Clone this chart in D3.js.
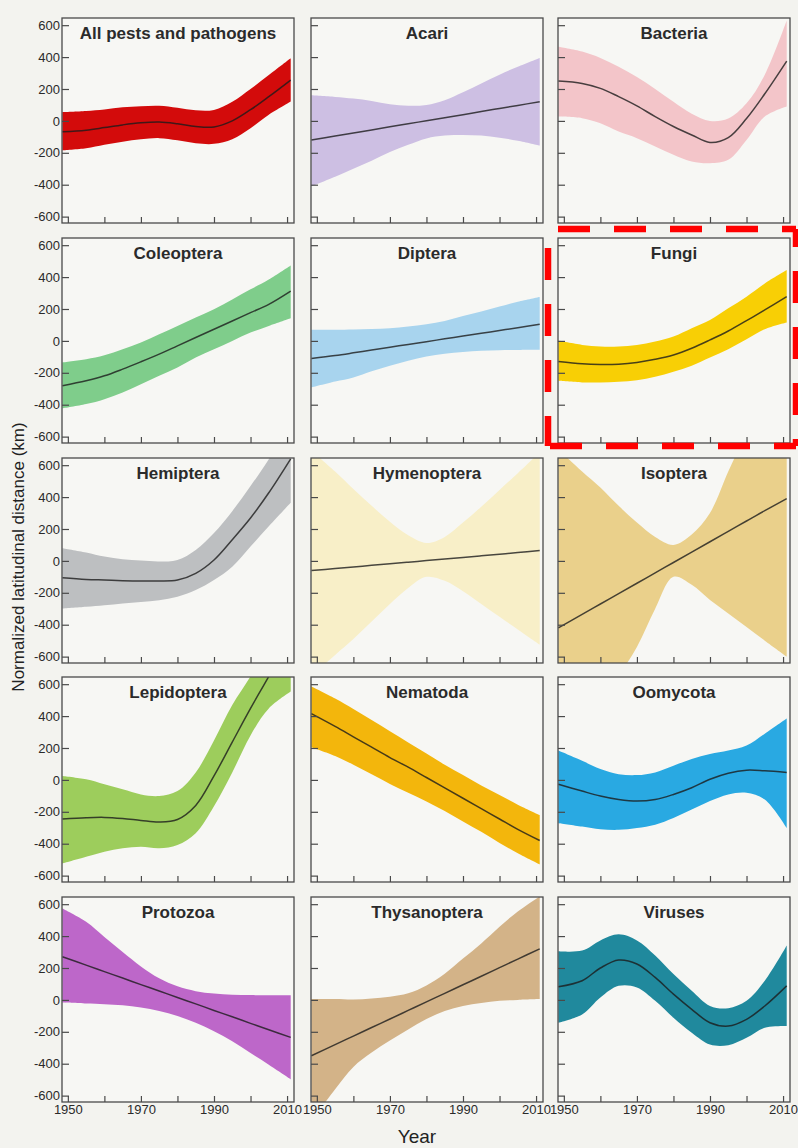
<!DOCTYPE html>
<html>
<head>
<meta charset="utf-8">
<script src="https://cdn.jsdelivr.net/npm/d3@7"></script>
<style>
  body { margin: 0; background: #f3f3ef; }
  text { font-family: "Liberation Sans", Arial, sans-serif; }
</style>
</head>
<body>
<svg></svg>
<script>
var years = [1948.5, 1955, 1960, 1965, 1970, 1975, 1980, 1985, 1990, 1995, 2000, 2005, 2011];

var panelNames = ["All pests and pathogens", "Acari", "Bacteria",
                  "Coleoptera", "Diptera", "Fungi",
                  "Hemiptera", "Hymenoptera", "Isoptera",
                  "Lepidoptera", "Nematoda", "Oomycota",
                  "Protozoa", "Thysanoptera", "Viruses"];

var panelColors = ["#d30b0b", "#cdbfe3", "#f3c5c9",
                   "#7fcd8b", "#a8d4ee", "#f8cf05",
                   "#bdbfc1", "#f8efc8", "#ead08b",
                   "#9dcd5c", "#f3b60c", "#29a9e2",
                   "#bd67c9", "#d3b388", "#20899d"];

var yTicks = [600, 400, 200, 0, -200, -400, -600];
var yTickLabels = ["600", "400", "200", "0", "-200", "-400", "-600"];
var xTicks = [1950, 1960, 1970, 1980, 1990, 2000, 2010];
var xTickLabels = ["1950", "", "1970", "", "1990", "", "2010"];

// fitted line, upper and lower band, km, one value per entry of years
var fitAll = [-68, -58, -42, -25, -12, -7, -18, -35, -38, 0, 70, 152, 256];
var hiAll  = [55, 62, 72, 85, 92, 95, 82, 66, 69, 120, 200, 287, 392];
var loAll  = [-185, -172, -150, -130, -115, -108, -122, -140, -144, -115, -46, 38, 121];

var fitAcari = [-120, -95, -76, -57, -37, -18, 1, 20, 39, 59, 78, 97, 120];
var hiAcari  = [160, 150, 140, 125, 105, 95, 100, 130, 180, 235, 290, 340, 395];
var loAcari  = [-410, -350, -300, -250, -195, -150, -110, -92, -88, -92, -105, -125, -155];

var fitBact = [250, 235, 204, 152, 94, 27, -35, -88, -135, -105, 15, 170, 375];
var hiBact  = [465, 435, 395, 340, 275, 200, 120, 45, 0, 15, 110, 290, 630];
var loBact  = [27, 17, -15, -67, -108, -160, -212, -254, -265, -244, -119, 27, 90];

var fitCole = [-281, -250, -219, -177, -131, -83, -31, 21, 73, 125, 177, 229, 312];
var hiCole  = [-135, -115, -90, -52, -10, 42, 94, 146, 198, 260, 323, 385, 473];
var loCole  = [-423, -396, -365, -323, -271, -219, -167, -104, -52, 0, 52, 94, 142];

var fitDipt = [-110, -92, -75, -57, -40, -22, -5, 13, 30, 48, 65, 83, 105];
var hiDipt  = [70, 70, 72, 75, 80, 90, 104, 125, 156, 185, 215, 245, 275];
var loDipt  = [-292, -255, -229, -190, -156, -125, -98, -80, -69, -62, -58, -57, -56];

var fitFungi = [-129, -144, -148, -146, -135, -115, -88, -46, 6, 62, 127, 194, 277];
var hiFungi  = [2, -25, -35, -35, -25, -4, 27, 79, 131, 204, 277, 360, 444];
var loFungi  = [-250, -260, -260, -256, -246, -225, -194, -156, -104, -52, 10, 73, 115];

var fitHemi = [-105, -116, -120, -124, -126, -126, -120, -78, 6, 133, 269, 427, 640];
var hiHemi  = [80, 53, 27, 10, 2, -4, 6, 69, 175, 312, 469, 637, 880];
var loHemi  = [-299, -288, -278, -267, -257, -246, -225, -183, -120, -36, 90, 217, 364];

var fitHyme = [-60, -48, -38, -28, -18, -8, 2, 12, 22, 32, 42, 52, 65];
var hiHyme  = [690, 560, 450, 345, 245, 160, 112, 150, 240, 340, 445, 550, 680];
var loHyme  = [-720, -590, -490, -380, -270, -170, -100, -125, -190, -270, -350, -430, -525];

var fitIsop = [-420, -335, -270, -205, -140, -75, -10, 55, 120, 185, 250, 315, 390];
var hiIsop  = [700, 560, 460, 345, 240, 150, 100, 165, 300, 560, 800, 1000, 1200];
var loIsop  = [-1200, -1050, -880, -720, -540, -300, -100, -150, -245, -330, -415, -500, -600];

var fitLepi = [-245, -237, -235, -242, -254, -264, -248, -160, 25, 237, 448, 649, 900];
var hiLepi  = [25, 4, -27, -59, -91, -101, -70, 47, 247, 469, 649, 850, 1050];
var loLepi  = [-524, -482, -450, -429, -419, -429, -408, -334, -165, 47, 279, 448, 554];

var fitNema = [415, 335, 270, 205, 140, 80, 15, -50, -115, -180, -245, -310, -380];
var hiNema  = [585, 510, 445, 375, 305, 235, 165, 95, 30, -35, -95, -155, -220];
var loNema  = [205, 150, 95, 35, -25, -80, -135, -195, -260, -325, -395, -460, -530];

var fitOomy = [-27, -70, -101, -123, -133, -123, -91, -49, 4, 42, 61, 57, 47];
var hiOomy  = [184, 120, 68, 36, 30, 47, 89, 131, 163, 184, 216, 290, 385];
var loOomy  = [-271, -292, -309, -313, -302, -281, -239, -186, -133, -91, -80, -123, -302];

var fitProt = [270, 218, 177, 137, 96, 56, 15, -25, -66, -106, -147, -187, -235];
var hiProt  = [573, 490, 395, 300, 210, 135, 85, 55, 40, 33, 30, 29, 29];
var loProt  = [-17, -23, -27, -34, -48, -69, -101, -143, -196, -259, -333, -406, -497];

var fitThys = [-350, -280, -227, -173, -120, -66, -12, 41, 95, 148, 202, 256, 320];
var hiThys  = [6, 5, 2, 8, 20, 42, 91, 164, 259, 354, 459, 554, 648];
var loThys  = [-760, -560, -420, -330, -255, -185, -120, -70, -38, -20, -6, 0, 5];

var fitViru = [82, 120, 200, 250, 225, 141, 36, -59, -143, -164, -122, -38, 88];
var hiViru  = [305, 309, 373, 411, 373, 278, 162, 57, -38, -52, -6, 120, 341];
var loViru  = [-143, -91, 15, 88, 78, -6, -112, -206, -280, -284, -238, -175, -164];

var fits = [fitAll, fitAcari, fitBact, fitCole, fitDipt, fitFungi, fitHemi, fitHyme, fitIsop,
            fitLepi, fitNema, fitOomy, fitProt, fitThys, fitViru];
var his = [hiAll, hiAcari, hiBact, hiCole, hiDipt, hiFungi, hiHemi, hiHyme, hiIsop,
           hiLepi, hiNema, hiOomy, hiProt, hiThys, hiViru];
var los = [loAll, loAcari, loBact, loCole, loDipt, loFungi, loHemi, loHyme, loIsop,
           loLepi, loNema, loOomy, loProt, loThys, loViru];

var width = 798;
var height = 1148;
var colX = [62, 311, 558];
var rowY = [18, 238, 458, 677, 897];
var pw = 232;
var ph = 205;

var svg = d3.select("svg")
              .attr("width", width)
              .attr("height", height);

var x = d3.scaleLinear().domain([1948.4, 2011.9]).range([0, pw]);
var y = d3.scaleLinear().domain([-640, 645]).range([ph, 0]);

var band = d3.area()
               .x(d => x(d.year))
               .y0(d => y(d.lo))
               .y1(d => y(d.hi))
               .curve(d3.curveCatmullRom.alpha(0.5));

var line = d3.line()
               .x(d => x(d.year))
               .y(d => y(d.fit))
               .curve(d3.curveCatmullRom.alpha(0.5));

svg.append("defs")
  .append("clipPath")
    .attr("id", "panel-clip")
  .append("rect")
    .attr("width", pw)
    .attr("height", ph);

panelNames.forEach(function(name, i){
  var col = i % 3;
  var row = Math.floor(i / 3);
  var rows = years.map((yr, j) => ({year: yr, fit: fits[i][j], hi: his[i][j], lo: los[i][j]}));

  var g = svg.append("g")
               .attr("transform", "translate(" + colX[col] + "," + rowY[row] + ")");

  g.append("rect")
     .attr("width", pw)
     .attr("height", ph)
     .attr("fill", "#f7f7f4");

  var plot = g.append("g").attr("clip-path", "url(#panel-clip)");

  plot.append("path")
        .datum(rows)
        .attr("d", band)
        .attr("fill", panelColors[i]);

  plot.append("path")
        .datum(rows)
        .attr("d", line)
        .attr("fill", "none")
        .attr("stroke", "#1c1c1c")
        .attr("stroke-opacity", 0.8)
        .attr("stroke-width", 1.5);

  var yAxis = g.append("g")
                 .call(d3.axisLeft(y)
                         .tickValues(yTicks)
                         .tickSize(-7)
                         .tickPadding(2)
                         .tickFormat((d, k) => col === 0 ? yTickLabels[k] : ""));

  var xAxis = g.append("g")
                 .attr("transform", "translate(0," + ph + ")")
                 .call(d3.axisBottom(x)
                         .tickValues(xTicks)
                         .tickSize(-6)
                         .tickPadding(3)
                         .tickFormat((d, k) => row === 4 ? xTickLabels[k] : ""));

  [yAxis, xAxis].forEach(function(ax){
    ax.select(".domain").remove();
    ax.selectAll(".tick line").attr("stroke", "#4a4a4a").attr("stroke-width", 1.2);
    ax.selectAll(".tick text")
        .attr("fill", "#2a2a2a")
        .style("font-size", "13px")
        .style("font-family", "'Liberation Sans', Arial, sans-serif");
  });

  g.append("rect")
     .attr("width", pw)
     .attr("height", ph)
     .attr("fill", "none")
     .attr("stroke", "#4a4a4a")
     .attr("stroke-width", 1.3);

  g.append("text")
     .attr("x", pw / 2)
     .attr("y", 21)
     .attr("text-anchor", "middle")
     .style("font-size", "17px")
     .style("font-weight", "bold")
     .attr("fill", "#2b2b2b")
     .text(name);
});

// axis titles
svg.append("text")
     .attr("transform", "translate(24,557) rotate(-90)")
     .attr("text-anchor", "middle")
     .style("font-size", "17px")
     .attr("fill", "#222")
     .text("Normalized latitudinal distance (km)");

svg.append("text")
     .attr("x", 417)
     .attr("y", 1143)
     .attr("text-anchor", "middle")
     .style("font-size", "19px")
     .attr("fill", "#222")
     .text("Year");

// dashed highlight round the Fungi panel, one side at a time
var boxSides = [
  {x1: 548, y1: 229, x2: 796, y2: 229, off: -10},
  {x1: 796, y1: 229, x2: 796, y2: 446, off: 14},
  {x1: 548, y1: 446, x2: 796, y2: 446, off: -2},
  {x1: 548, y1: 229, x2: 548, y2: 446, off: -19}
];

svg.append("g")
  .selectAll("line")
  .data(boxSides)
  .enter()
  .append("line")
    .attr("x1", d => d.x1)
    .attr("y1", d => d.y1)
    .attr("x2", d => d.x2)
    .attr("y2", d => d.y2)
    .attr("stroke", "#ff0000")
    .attr("stroke-width", 6.5)
    .attr("stroke-dasharray", "32,24")
    .attr("stroke-dashoffset", d => d.off);
</script>
</body>
</html>
